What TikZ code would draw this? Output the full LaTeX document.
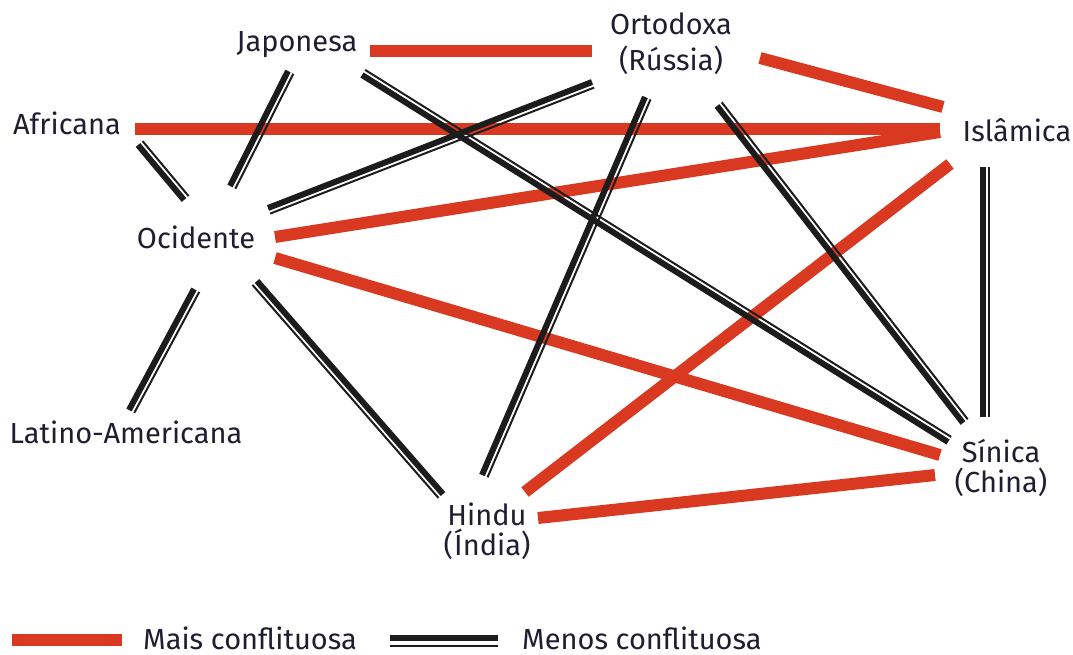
\documentclass[tikz,border=0pt]{standalone}
\usepackage{fontspec}
\setmainfont{Fira Sans}
\usetikzlibrary{calc}
\definecolor{conf}{RGB}{216,57,32}
\definecolor{ink}{RGB}{30,30,48}
\definecolor{blk}{RGB}{28,28,28}
\tikzset{
 lbl/.style={font=\fontsize{29}{30}\selectfont, text=ink, inner sep=0pt, align=center, anchor=base},
 more/.style={draw=conf, line width=12pt},
 lessthick/.style={draw=blk, line width=6pt},
 lessthin/.style={draw=blk, line width=2pt},
}
\newcommand{\lessconn}[2]{%
  \draw[lessthick] (#1) -- (#2);
  \draw[lessthin] ($(#1)!6pt!90:(#2)$) -- ($(#2)!6pt!-90:(#1)$);
}
\begin{document}
\begin{tikzpicture}[x=1pt,y=-1pt]
\useasboundingbox (0,0) rectangle (1073,655);
% labels (base = baseline of last line)
\node[lbl] (jap) at (297,52) {Japonesa};
\node[lbl] (ort) at (671,71) {Ortodoxa\\[6pt](Rússia)};
\node[lbl] (afr) at (67,135) {Africana};
\node[lbl] (isl) at (1017,142) {Islâmica};
\node[lbl] (oci) at (196,248) {Ocidente};
\node[lbl] (lat) at (126,443) {Latino-Americana};
\node[lbl] (sin) at (1001,492) {Sínica\\(China)};
\node[lbl] (hin) at (487,555) {Hindu\\(Índia)};
% endpoints
\coordinate (jap-ort-a) at (370,51);  \coordinate (jap-ort-b) at (592,51);
\coordinate (ort-isl-a) at (760,58);  \coordinate (ort-isl-b) at (943,107);
\coordinate (afr-isl-a) at (135,129); \coordinate (afr-isl-b) at (940,129);
\coordinate (oci-isl-a) at (275,237); \coordinate (oci-isl-b) at (940,132);
\coordinate (oci-sin-a) at (275,258); \coordinate (oci-sin-b) at (940,455);
\coordinate (isl-hin-a) at (950,164); \coordinate (isl-hin-b) at (525,492);
\coordinate (hin-sin-a) at (538,518); \coordinate (hin-sin-b) at (935,475);
\coordinate (afr-oci-a) at (138,145); \coordinate (afr-oci-b) at (184,200);
\coordinate (jap-oci-a) at (288,71);  \coordinate (jap-oci-b) at (230,186);
\coordinate (ort-oci-a) at (592,82);  \coordinate (ort-oci-b) at (268,208);
\coordinate (jap-sin-a) at (362,75);  \coordinate (jap-sin-b) at (948,442);
\coordinate (ort-hin-a) at (645,97);  \coordinate (ort-hin-b) at (482,475);
\coordinate (ort-sin-a) at (717,106); \coordinate (ort-sin-b) at (963,423);
\coordinate (isl-sin-a) at (983,167); \coordinate (isl-sin-b) at (983,417);
\coordinate (hin-oci-a) at (443,494); \coordinate (hin-oci-b) at (257,281);
\coordinate (oci-lat-a) at (194,289); \coordinate (oci-lat-b) at (129,410);
% more conflictive
\draw[more] (jap-ort-a) -- (jap-ort-b);
\draw[more] (ort-isl-a) -- (ort-isl-b);
\draw[more] (afr-isl-a) -- (afr-isl-b);
\draw[more] (oci-isl-a) -- (oci-isl-b);
\draw[more] (oci-sin-a) -- (oci-sin-b);
\draw[more] (isl-hin-a) -- (isl-hin-b);
\draw[more] (hin-sin-a) -- (hin-sin-b);
% less conflictive
\lessconn{afr-oci-a}{afr-oci-b}
\lessconn{jap-oci-a}{jap-oci-b}
\lessconn{ort-oci-a}{ort-oci-b}
\lessconn{jap-sin-a}{jap-sin-b}
\lessconn{ort-hin-a}{ort-hin-b}
\lessconn{ort-sin-a}{ort-sin-b}
\lessconn{isl-sin-a}{isl-sin-b}
\lessconn{hin-oci-a}{hin-oci-b}
\lessconn{oci-lat-a}{oci-lat-b}
% legend
\coordinate (lr-a) at (12,640);  \coordinate (lr-b) at (122,640);
\coordinate (lb-a) at (390,638); \coordinate (lb-b) at (498,638);
\coordinate (lbt-a) at (390,646); \coordinate (lbt-b) at (498,646);
\draw[more] (lr-a) -- (lr-b);
\draw[lessthick] (lb-a) -- (lb-b);
\draw[lessthin] (lbt-a) -- (lbt-b);
\node[lbl, anchor=base west] (leg-more) at (143,649) {Mais conflituosa};
\node[lbl, anchor=base west] (leg-less) at (522,649) {Menos conflituosa};
\end{tikzpicture}
\end{document}
